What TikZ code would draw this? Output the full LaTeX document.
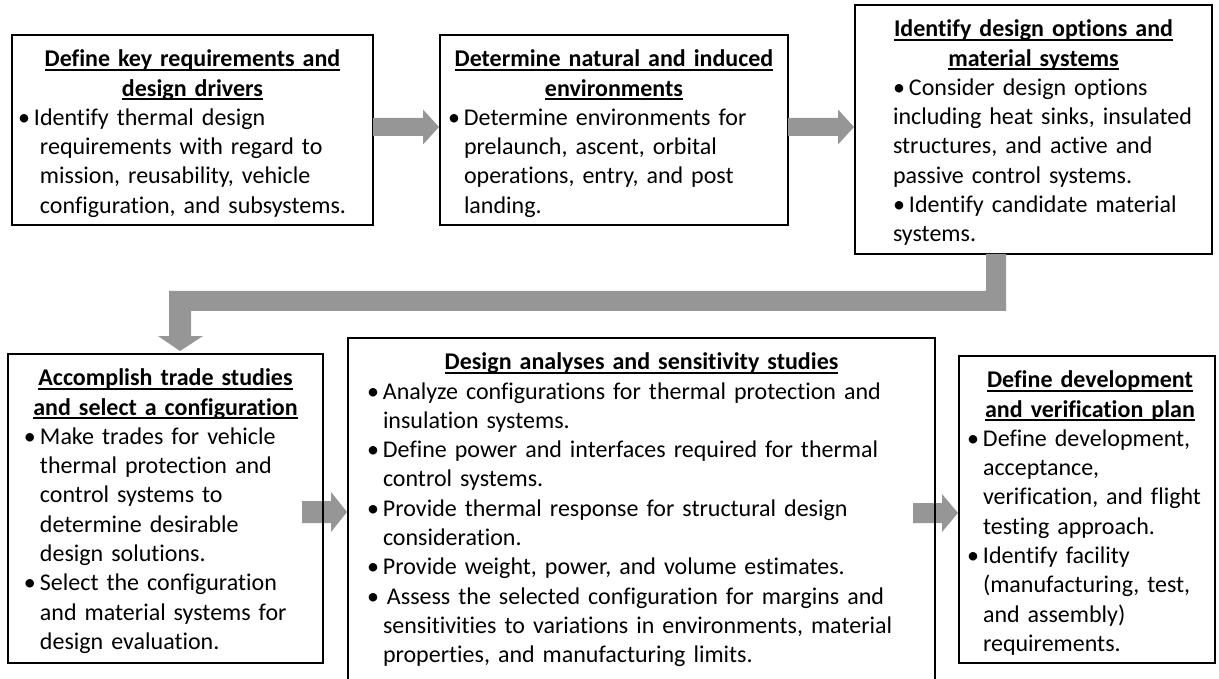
\documentclass[tikz,border=0pt]{standalone}
\usepackage{fontspec}
\setmainfont{Carlito}[Ligatures=NoCommon,WordSpace=0.8]
\usetikzlibrary{calc}
\definecolor{arrgray}{RGB}{150,150,150}
\newcommand\hul[1]{\setbox0\hbox{#1}\rlap{\rule[-4pt]{\wd0}{2pt}}\box0}
\newcommand\hdl[2]{\makebox[#1][c]{\hul{\textbf{#2}}}}
\newcommand\bl[3]{\hspace*{#1}\makebox[#2][l]{•}#3}
\newcommand\cl[2]{\hspace*{#1}#2}
\begin{document}
\begin{tikzpicture}[x=1pt,y=-1pt,
  frame/.style={draw=black,line width=2pt,inner sep=0pt,outer sep=0pt,anchor=north west},
  txt/.style={anchor=north west,inner sep=0pt,outer sep=0pt,text width=700pt,align=left,font=\fontsize{24}{29.3}\selectfont},
  arr/.style={fill=arrgray,draw=none}]
\useasboundingbox (0,0) rectangle (1219,679);
\clip (0,0) rectangle (1219,679);
% frames
\node[frame,minimum width=361pt,minimum height=190pt] (b1) at (12,35) {};
\node[frame,minimum width=348pt,minimum height=190pt] (b2) at (440,35) {};
\node[frame,minimum width=357pt,minimum height=249pt] (b3) at (855,5) {};
\node[frame,minimum width=315pt,minimum height=309pt] (b4) at (8,354) {};
\node[frame,minimum width=587pt,minimum height=360pt] (b5) at (348,338) {};
\node[frame,minimum width=256pt,minimum height=307pt] (b6) at (959,356) {};
% arrows
\fill[arr] let \p1=(b1.east |- 0,127), \p2=(b2.west |- 0,127) in
  (\x1,\y1+9pt) -- (\x2-17pt,\y1+9pt) -- (\x2-17pt,\y1+17.5pt) -- (\x2-1pt,\y1)
  -- (\x2-17pt,\y1-17.5pt) -- (\x2-17pt,\y1-9pt) -- (\x1,\y1-9pt) -- cycle;
\fill[arr] let \p1=(b2.east |- 0,127), \p2=(b3.west |- 0,127) in
  (\x1,\y1+9pt) -- (\x2-17pt,\y1+9pt) -- (\x2-17pt,\y1+17.5pt) -- (\x2-1pt,\y1)
  -- (\x2-17pt,\y1-17.5pt) -- (\x2-17pt,\y1-9pt) -- (\x1,\y1-9pt) -- cycle;
\fill[arr] let \p1=(b4.east |- 0,512), \p2=(b5.west |- 0,512) in
  (\x1-21pt,\y1+11pt) -- (\x2-17pt,\y1+11pt) -- (\x2-17pt,\y1+20pt) -- (\x2-1pt,\y1)
  -- (\x2-17pt,\y1-20pt) -- (\x2-17pt,\y1-11pt) -- (\x1-21pt,\y1-11pt) -- cycle;
\fill[arr] let \p1=(b5.east |- 0,513), \p2=(b6.west |- 0,513) in
  (\x1-22pt,\y1+10pt) -- (\x2-17pt,\y1+10pt) -- (\x2-17pt,\y1+19pt) -- (\x2-1pt,\y1)
  -- (\x2-17pt,\y1-19pt) -- (\x2-17pt,\y1-10pt) -- (\x1-22pt,\y1-10pt) -- cycle;
\fill[arr] let \p1=(b3.south), \p2=(b4.north) in
  (986,\y1) -- (1006,\y1) -- (1006,311) -- (191,311) -- (191,\y2+18pt) -- (203,\y2+18pt)
  -- (180,\y2+3pt) -- (158,\y2+18pt) -- (169,\y2+18pt) -- (169,291) -- (986,291) -- cycle;
% redraw frames over arrows
\draw[line width=2pt] (b4.north west) rectangle (b4.south east);
\draw[line width=2pt] (b5.north west) rectangle (b5.south east);
% texts
\node[txt] (t1) at ($(b1.north west)+(0,11.2)$) {\strut\hdl{361pt}{Define key requirements and}\\
\hdl{361pt}{design drivers}\\
\bl{6pt}{16pt}{Identify thermal design}\\
\cl{28pt}{requirements with regard to}\\
\cl{28pt}{mission, reusability, vehicle}\\
\cl{28pt}{configuration, and subsystems.}};
\node[txt] (t2) at ($(b2.north west)+(0,11.2)$) {\strut\hdl{348pt}{Determine natural and induced}\\
\hdl{348pt}{environments}\\
\bl{8pt}{16pt}{Determine environments for}\\
\cl{24pt}{prelaunch, ascent, orbital}\\
\cl{24pt}{operations, entry, and post}\\
\cl{24pt}{landing.}};
\node[txt] (t3) at ($(b3.north west)+(0,11.2)$) {\strut\hdl{357pt}{Identify design options and}\\
\hdl{357pt}{material systems}\\
\bl{38pt}{16pt}{Consider design options}\\
\cl{38pt}{including heat sinks, insulated}\\
\cl{38pt}{structures, and active and}\\
\cl{38pt}{passive control systems.}\\
\bl{38pt}{16pt}{Identify candidate material}\\
\cl{38pt}{systems.}};
\node[txt] (t4) at ($(b4.north west)+(0,11.2)$) {\strut\hdl{315pt}{Accomplish trade studies}\\
\hdl{315pt}{and select a configuration}\\
\bl{16pt}{16pt}{Make trades for vehicle}\\
\cl{32pt}{thermal protection and}\\
\cl{32pt}{control systems to}\\
\cl{32pt}{determine desirable}\\
\cl{32pt}{design solutions.}\\
\bl{16pt}{16pt}{Select the configuration}\\
\cl{32pt}{and material systems for}\\
\cl{32pt}{design evaluation.}};
\node[txt] (t5) at ($(b5.north west)+(0,11.2)$) {\strut\hdl{587pt}{Design analyses and sensitivity studies}\\
\bl{19pt}{16pt}{Analyze configurations for thermal protection and}\\
\cl{35pt}{insulation systems.}\\
\bl{19pt}{16pt}{Define power and interfaces required for thermal}\\
\cl{35pt}{control systems.}\\
\bl{19pt}{16pt}{Provide thermal response for structural design}\\
\cl{35pt}{consideration.}\\
\bl{19pt}{16pt}{Provide weight, power, and volume estimates.}\\
\bl{19pt}{20pt}{Assess the selected configuration for margins and}\\
\cl{35pt}{sensitivities to variations in environments, material}\\
\cl{35pt}{properties, and manufacturing limits.}};
\node[txt] (t6) at ($(b6.north west)+(0,11.2)$) {\strut\hdl{262pt}{Define development}\\
\hdl{262pt}{and verification plan}\\
\bl{8pt}{16pt}{Define development,}\\
\cl{24pt}{acceptance,}\\
\cl{24pt}{verification, and flight}\\
\cl{24pt}{testing approach.}\\
\bl{8pt}{16pt}{Identify facility}\\
\cl{24pt}{(manufacturing, test,}\\
\cl{24pt}{and assembly)}\\
\cl{24pt}{requirements.}};
\end{tikzpicture}
\end{document}
